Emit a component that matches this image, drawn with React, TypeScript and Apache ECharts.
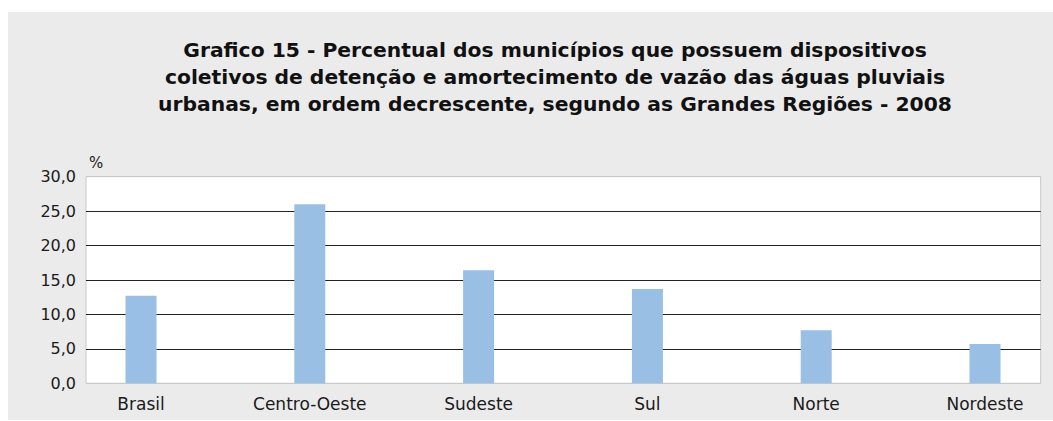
import React, { useEffect, useRef } from "react";
import * as echarts from "echarts";

const regions = ["Brasil", "Centro-Oeste", "Sudeste", "Sul", "Norte", "Nordeste"];
const percentValues = [12.7, 26.0, 16.4, 13.7, 7.7, 5.7];
const titleLines = [
  "Grafico 15 - Percentual dos municípios que possuem dispositivos",
  "coletivos de detenção e amortecimento de vazão das águas pluviais",
  "urbanas, em ordem decrescente, segundo as Grandes Regiões - 2008",
];
const yUnit = "%";
const yMin = 0;
const yMax = 30;
const yStep = 5;

const FONT = "'DejaVu Sans', 'Liberation Sans', Arial, sans-serif";

export default function App() {
  const ref = useRef<HTMLDivElement>(null);
  useEffect(() => {
    if (!ref.current) return;
    const chart = echarts.init(ref.current, null, { renderer: "svg" });
    const top = 176.7;
    const bottom = 421 - 383.3;
    chart.setOption({
      animation: false,
      backgroundColor: "#ffffff",
      graphic: [
        {
          type: "rect",
          z: -10,
          silent: true,
          shape: { x: 8, y: 12, width: 1045, height: 408 },
          style: { fill: "#ebebeb" },
        },
        {
          type: "text",
          x: 555,
          y: 77,
          style: {
            text: titleLines.join("\n"),
            fontFamily: FONT,
            fontSize: 20.3,
            fontWeight: "bold",
            lineHeight: 27,
            fill: "#111",
            align: "center",
            verticalAlign: "middle",
          },
        },
        {
          type: "text",
          x: 89,
          y: 163,
          style: {
            text: yUnit,
            fontFamily: FONT,
            fontSize: 15,
            fill: "#222",
            align: "left",
            verticalAlign: "middle",
          },
        },
      ],
      grid: [
        {
          left: 86,
          right: 12.3,
          top,
          bottom,
          show: true,
          backgroundColor: "#ffffff",
          borderColor: "#c8c8c8",
          borderWidth: 1,
          outerBoundsMode: "none",
          containLabel: false,
        },
        {
          left: 56.6,
          width: 1012.8,
          top,
          bottom,
          outerBoundsMode: "none",
          containLabel: false,
        },
      ],
      xAxis: [
        {
          gridIndex: 0,
          type: "category",
          data: regions,
          show: false,
        },
        {
          gridIndex: 1,
          type: "category",
          data: regions,
          axisLine: { show: false },
          axisTick: { show: false },
          axisLabel: {
            fontFamily: FONT,
            fontSize: 17,
            color: "#1a1a1a",
            margin: 12,
            interval: 0,
          },
        },
      ],
      yAxis: [
        {
          gridIndex: 0,
          type: "value",
          min: yMin,
          max: yMax,
          interval: yStep,
          axisLine: { show: false },
          axisTick: { show: false },
          axisLabel: {
            fontFamily: FONT,
            fontSize: 16,
            color: "#1a1a1a",
            margin: 10,
            formatter: (v: number) => v.toFixed(1).replace(".", ","),
          },
          splitLine: {
            show: true,
            lineStyle: {
              color: ["#c8c8c8", "#222", "#222", "#222", "#222", "#222", "#c8c8c8"],
              width: 1,
            },
          },
        },
        {
          gridIndex: 1,
          type: "value",
          min: yMin,
          max: yMax,
          interval: yStep,
          show: false,
          splitLine: { show: false },
        },
      ],
      series: [
        {
          type: "bar",
          xAxisIndex: 1,
          yAxisIndex: 1,
          data: percentValues,
          barWidth: 31,
          itemStyle: { color: "#9abfe4" },
          z: 3,
        },
      ],
    });
    return () => chart.dispose();
  }, []);
  return (
    <div
      ref={ref}
      style={{ position: "absolute", left: 0, top: 0, width: 1053, height: 421 }}
    />
  );
}
